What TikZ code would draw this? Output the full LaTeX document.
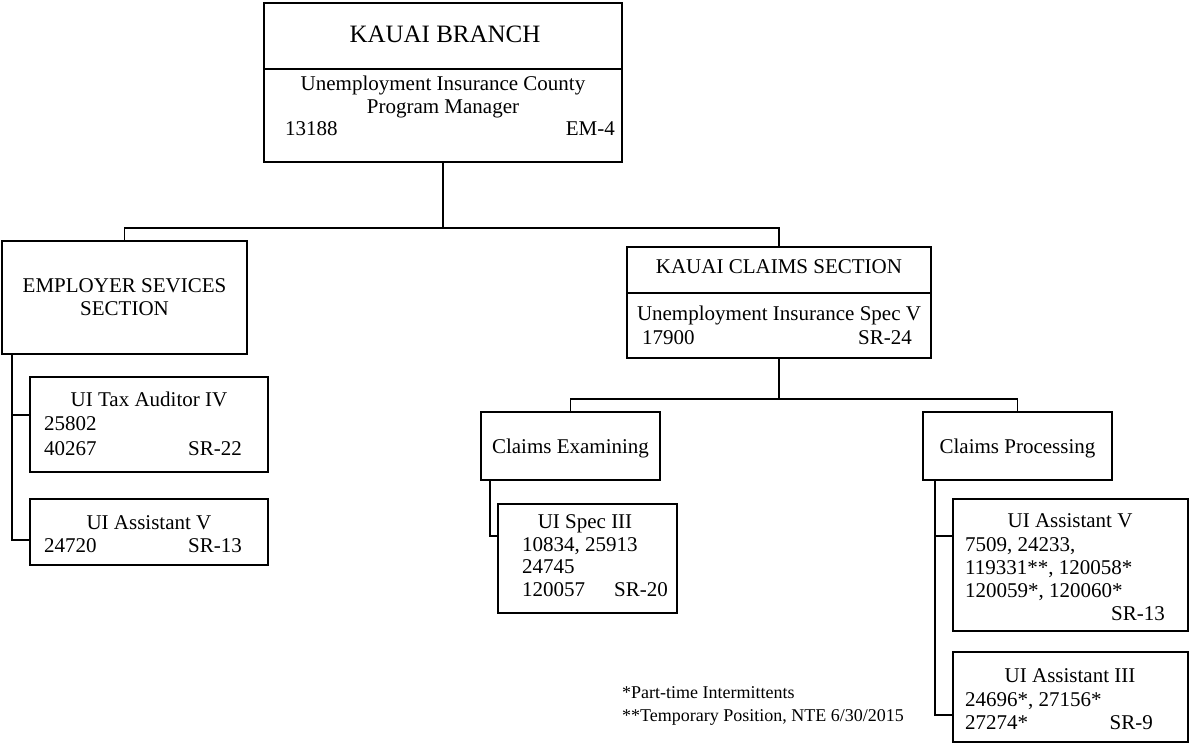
\documentclass[tikz,border=0pt]{standalone}
\usepackage{fontspec}
\setmainfont{Liberation Serif}
\begin{document}
\begin{tikzpicture}[x=1pt,y=-1pt,
  box/.style={draw, line width=1.1pt, anchor=north west, inner sep=0pt, outer sep=0pt},
  ln/.style={line width=1.1pt},
  t/.style={inner sep=0pt, yshift=-5pt, font=\fontsize{21}{25}\selectfont},
  tc/.style={t, anchor=mid},
  tl/.style={t, anchor=mid west},
  tr/.style={t, anchor=mid east},
  title/.style={inner sep=0pt, yshift=-5pt, anchor=mid, font=\fontsize{25}{30}\selectfont},
  fn/.style={inner sep=0pt, yshift=-4pt, anchor=mid west, font=\fontsize{18}{22}\selectfont}]
\useasboundingbox (0,0) rectangle (1191,746);

% Kauai Branch
\node[box, minimum width=358pt, minimum height=159pt] (branch) at (264,3) {};
\draw[ln] (branch.west |- 0,69) -- (branch.east |- 0,69);
\node[title] (bt) at (445,35) {KAUAI BRANCH};
\node[tc] (b1) at (443,83) {Unemployment Insurance County};
\node[tc] (b2) at (443,106) {Program Manager};
\node[tl] (b3) at (285,128) {13188};
\node[tr] (b4) at (615,128) {EM-4};

% Employer services section
\node[box, minimum width=245pt, minimum height=113pt] (emp) at (2,241) {};
\node[tc] (e1) at (124.5,285) {EMPLOYER SEVICES};
\node[tc] (e2) at (124.5,308) {SECTION};

% Kauai claims section
\node[box, minimum width=304pt, minimum height=111pt] (claims) at (627,247) {};
\draw[ln] (claims.west |- 0,293) -- (claims.east |- 0,293);
\node[tc] (c1) at (779,266) {KAUAI CLAIMS SECTION};
\node[tc] (c2) at (779,313) {Unemployment Insurance Spec V};
\node[tl] (c3) at (642,337) {17900};
\node[tr] (c4) at (912,337) {SR-24};

% top connectors
\coordinate (j1) at (branch.south |- 0,228);
\draw[ln] (branch.south) -- (j1) -| (emp.north);
\draw[ln] (j1) -| (claims.north);

% UI Tax Auditor IV
\node[box, minimum width=238pt, minimum height=95pt] (tax) at (30,377) {};
\node[tc] (ta1) at (149,399) {UI Tax Auditor IV};
\node[tl] (ta2) at (44,423) {25802};
\node[tl] (ta3) at (44,448) {40267};
\node[tr] (ta4) at (242,448) {SR-22};

% UI Assistant V (left)
\node[box, minimum width=238pt, minimum height=66pt] (asl) at (30,499) {};
\node[tc] (al1) at (149,522) {UI Assistant V};
\node[tl] (al2) at (44,545) {24720};
\node[tr] (al3) at (242,545) {SR-13};

\coordinate (ej) at ([xshift=10pt]emp.south west);
\draw[ln] (ej) |- (tax.west |- 0,415);
\draw[ln] (ej) |- (asl.west |- 0,540);

% Claims Examining / Processing
\node[box, minimum width=179pt, minimum height=68pt] (exam) at (481,412) {};
\node[tc] (ex1) at (exam.center) {Claims Examining};
\node[box, minimum width=189pt, minimum height=68pt] (proc) at (923,412) {};
\node[tc] (pr1) at (proc.center) {Claims Processing};

\coordinate (j2) at (claims.south |- 0,399);
\draw[ln] (claims.south) -- (j2);
\draw[ln] (j2) -| (exam.north);
\draw[ln] (j2) -| (proc.north);

% UI Spec III
\node[box, minimum width=179pt, minimum height=109pt] (spec) at (498,504) {};
\node[tc] (s1) at (585,521) {UI Spec III};
\node[tl] (s2) at (522,544) {10834, 25913};
\node[tl] (s3) at (522,566) {24745};
\node[tl] (s4) at (522,589) {120057};
\node[tr] (s5) at (668,589) {SR-20};
\coordinate (xj) at ([xshift=9pt]exam.south west);
\draw[ln] (xj) |- (spec.west |- 0,536);

% UI Assistant V (right)
\node[box, minimum width=235pt, minimum height=132pt] (asr) at (953,499) {};
\node[tc] (ar1) at (1070,520) {UI Assistant V};
\node[tl] (ar2) at (965,544) {7509, 24233,};
\node[tl] (ar3) at (965,567) {119331**, 120058*};
\node[tl] (ar4) at (965,590) {120059*, 120060*};
\node[tr] (ar5) at (1165,613) {SR-13};

% UI Assistant III
\node[box, minimum width=235pt, minimum height=90pt] (as3) at (953,652) {};
\node[tc] (a31) at (1070,675) {UI Assistant III};
\node[tl] (a32) at (965,699) {24696*, 27156*};
\node[tl] (a33) at (965,722) {27274*};
\node[tr] (a34) at (1153,722) {SR-9};

\coordinate (pj) at ([xshift=12pt]proc.south west);
\draw[ln] (pj) |- (asr.west |- 0,536);
\draw[ln] (pj) |- (as3.west |- 0,715);

% footnotes
\node[fn] (f1) at (622,692) {*Part-time Intermittents};
\node[fn] (f2) at (622,715) {**Temporary Position, NTE 6/30/2015};
\end{tikzpicture}
\end{document}
